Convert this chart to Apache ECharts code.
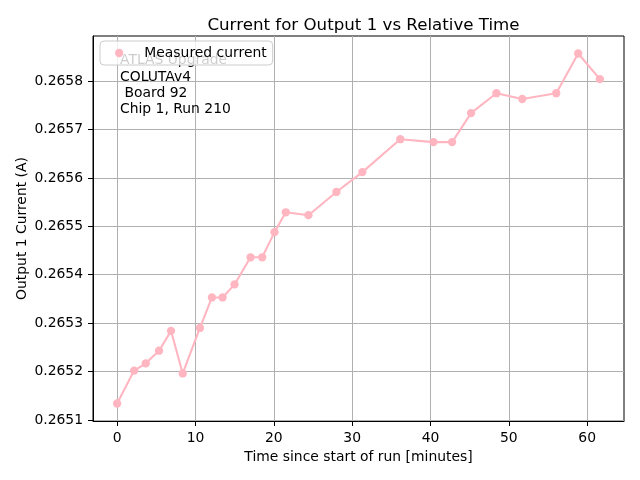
<!DOCTYPE html>
<html>
<head>
<meta charset="utf-8">
<script src="https://cdn.jsdelivr.net/npm/echarts@6/dist/echarts.min.js"></script>
<style>html,body{margin:0;padding:0;background:#fff}#c{width:640px;height:480px}</style>
</head>
<body>
<div id="c"></div>
<script>
const timeMin = [0, 2.17, 3.66, 5.35, 6.88, 8.37, 10.57, 12.10, 13.46, 14.99, 17.03, 18.52, 20.09, 21.53, 24.42, 27.99, 31.30, 36.14, 40.38, 42.76, 45.18, 48.41, 51.72, 56.05, 58.85, 61.62];
const currentA = [0.265134, 0.265202, 0.265217, 0.265243, 0.265284, 0.265196, 0.265290, 0.265353, 0.265353, 0.265380, 0.265436, 0.265436, 0.265488, 0.265529, 0.265523, 0.265571, 0.265612, 0.265680, 0.265674, 0.265674, 0.265734, 0.265775, 0.265763, 0.265775, 0.265857, 0.265804];
const xTicks = [0, 10, 20, 30, 40, 50, 60];
const yTicks = [0.2651, 0.2652, 0.2653, 0.2654, 0.2655, 0.2656, 0.2657, 0.2658];
const seriesName = 'Measured current';
const titleText = 'Current for Output 1 vs Relative Time';
const xName = 'Time since start of run [minutes]';
const yName = 'Output 1 Current (A)';
const annoTop = 'ATLAS Upgrade';
const annoText = 'COLUTAv4\n Board 92\nChip 1, Run 210';

const FONT = 'DejaVu Sans';
const xMin = -3.081, xMax = 64.70;
const yMin = 0.2650978, yMax = 0.2658932;

const chart = echarts.init(document.getElementById('c'), null, {renderer: 'canvas'});
const data = timeMin.map((t, i) => [t, currentA[i]]);
const gridC = '#b0b0b0';
chart.setOption({
  animation: false,
  backgroundColor: '#fff',
  textStyle: {fontFamily: FONT},
  title: {
    text: titleText, left: 358.5, top: 12, textAlign: 'center',
    textStyle: {fontFamily: FONT, fontSize: 16.67, fontWeight: 'normal', color: '#000'}
  },
  grid: {left: 93, right: 16, top: 36, bottom: 59, show: true, borderColor: '#000', borderWidth: 1, backgroundColor: 'rgba(0,0,0,0)'},
  legend: {
    data: [{name: seriesName, icon: 'circle'}],
    left: 100, top: 41, z: 10,
    itemWidth: 8.3, itemHeight: 8.3,
    padding: [5, 6, 5, 15],
    backgroundColor: 'rgba(255,255,255,0.8)',
    borderColor: '#cccccc', borderWidth: 1, borderRadius: 4,
    formatter: n => '{a|' + n + '}',
    textStyle: {fontFamily: FONT, fontSize: 13.9, color: '#000',
      rich: {a: {fontFamily: FONT, fontSize: 13.9, color: '#000', padding: [0, 0, 0, 16]}}}
  },
  xAxis: {
    type: 'value', min: xMin, max: xMax,
    name: xName, nameLocation: 'middle', nameGap: 29, nameMoveOverlap: false,
    nameTextStyle: {fontFamily: FONT, fontSize: 13.9, color: '#000'},
    axisLine: {show: true, onZero: false, lineStyle: {color: '#000', width: 1}},
    axisTick: {show: true, length: 5, customValues: xTicks, lineStyle: {color: '#000', width: 1}},
    axisLabel: {customValues: xTicks, margin: 10, fontFamily: FONT, fontSize: 13.9, color: '#000', formatter: v => String(Math.round(v))},
    splitLine: {show: true, lineStyle: {color: gridC, width: 1}}
  },
  yAxis: {
    type: 'value', min: yMin, max: yMax, scale: true,
    name: yName, nameLocation: 'middle', nameGap: 64, nameRotate: 90, nameMoveOverlap: false,
    nameTextStyle: {fontFamily: FONT, fontSize: 13.9, color: '#000'},
    axisLine: {show: true, onZero: false, lineStyle: {color: '#000', width: 1}},
    axisTick: {show: true, length: 5, customValues: yTicks, lineStyle: {color: '#000', width: 1}},
    axisLabel: {customValues: yTicks, margin: 10, fontFamily: FONT, fontSize: 13.9, color: '#000', formatter: v => v.toFixed(4)},
    splitLine: {show: true, lineStyle: {color: gridC, width: 1}}
  },
  graphic: [
    {type: 'text', left: 120, top: 53, z: 1, zlevel: 0,
     style: {text: annoTop, fontFamily: FONT, fontSize: 13.9, fill: '#000'}},
    {type: 'text', left: 120, top: 69, z: 1,
     style: {text: annoText, fontFamily: FONT, fontSize: 13.9, lineHeight: 16, fill: '#000'}}
  ],
  series: [{
    name: seriesName, type: 'line', data: data,
    symbol: 'circle', symbolSize: 8.3, showSymbol: true,
    itemStyle: {color: '#ffb6c1'},
    lineStyle: {color: '#ffb6c1', width: 2.08},
    z: 3
  }]
});
</script>
</body>
</html>
